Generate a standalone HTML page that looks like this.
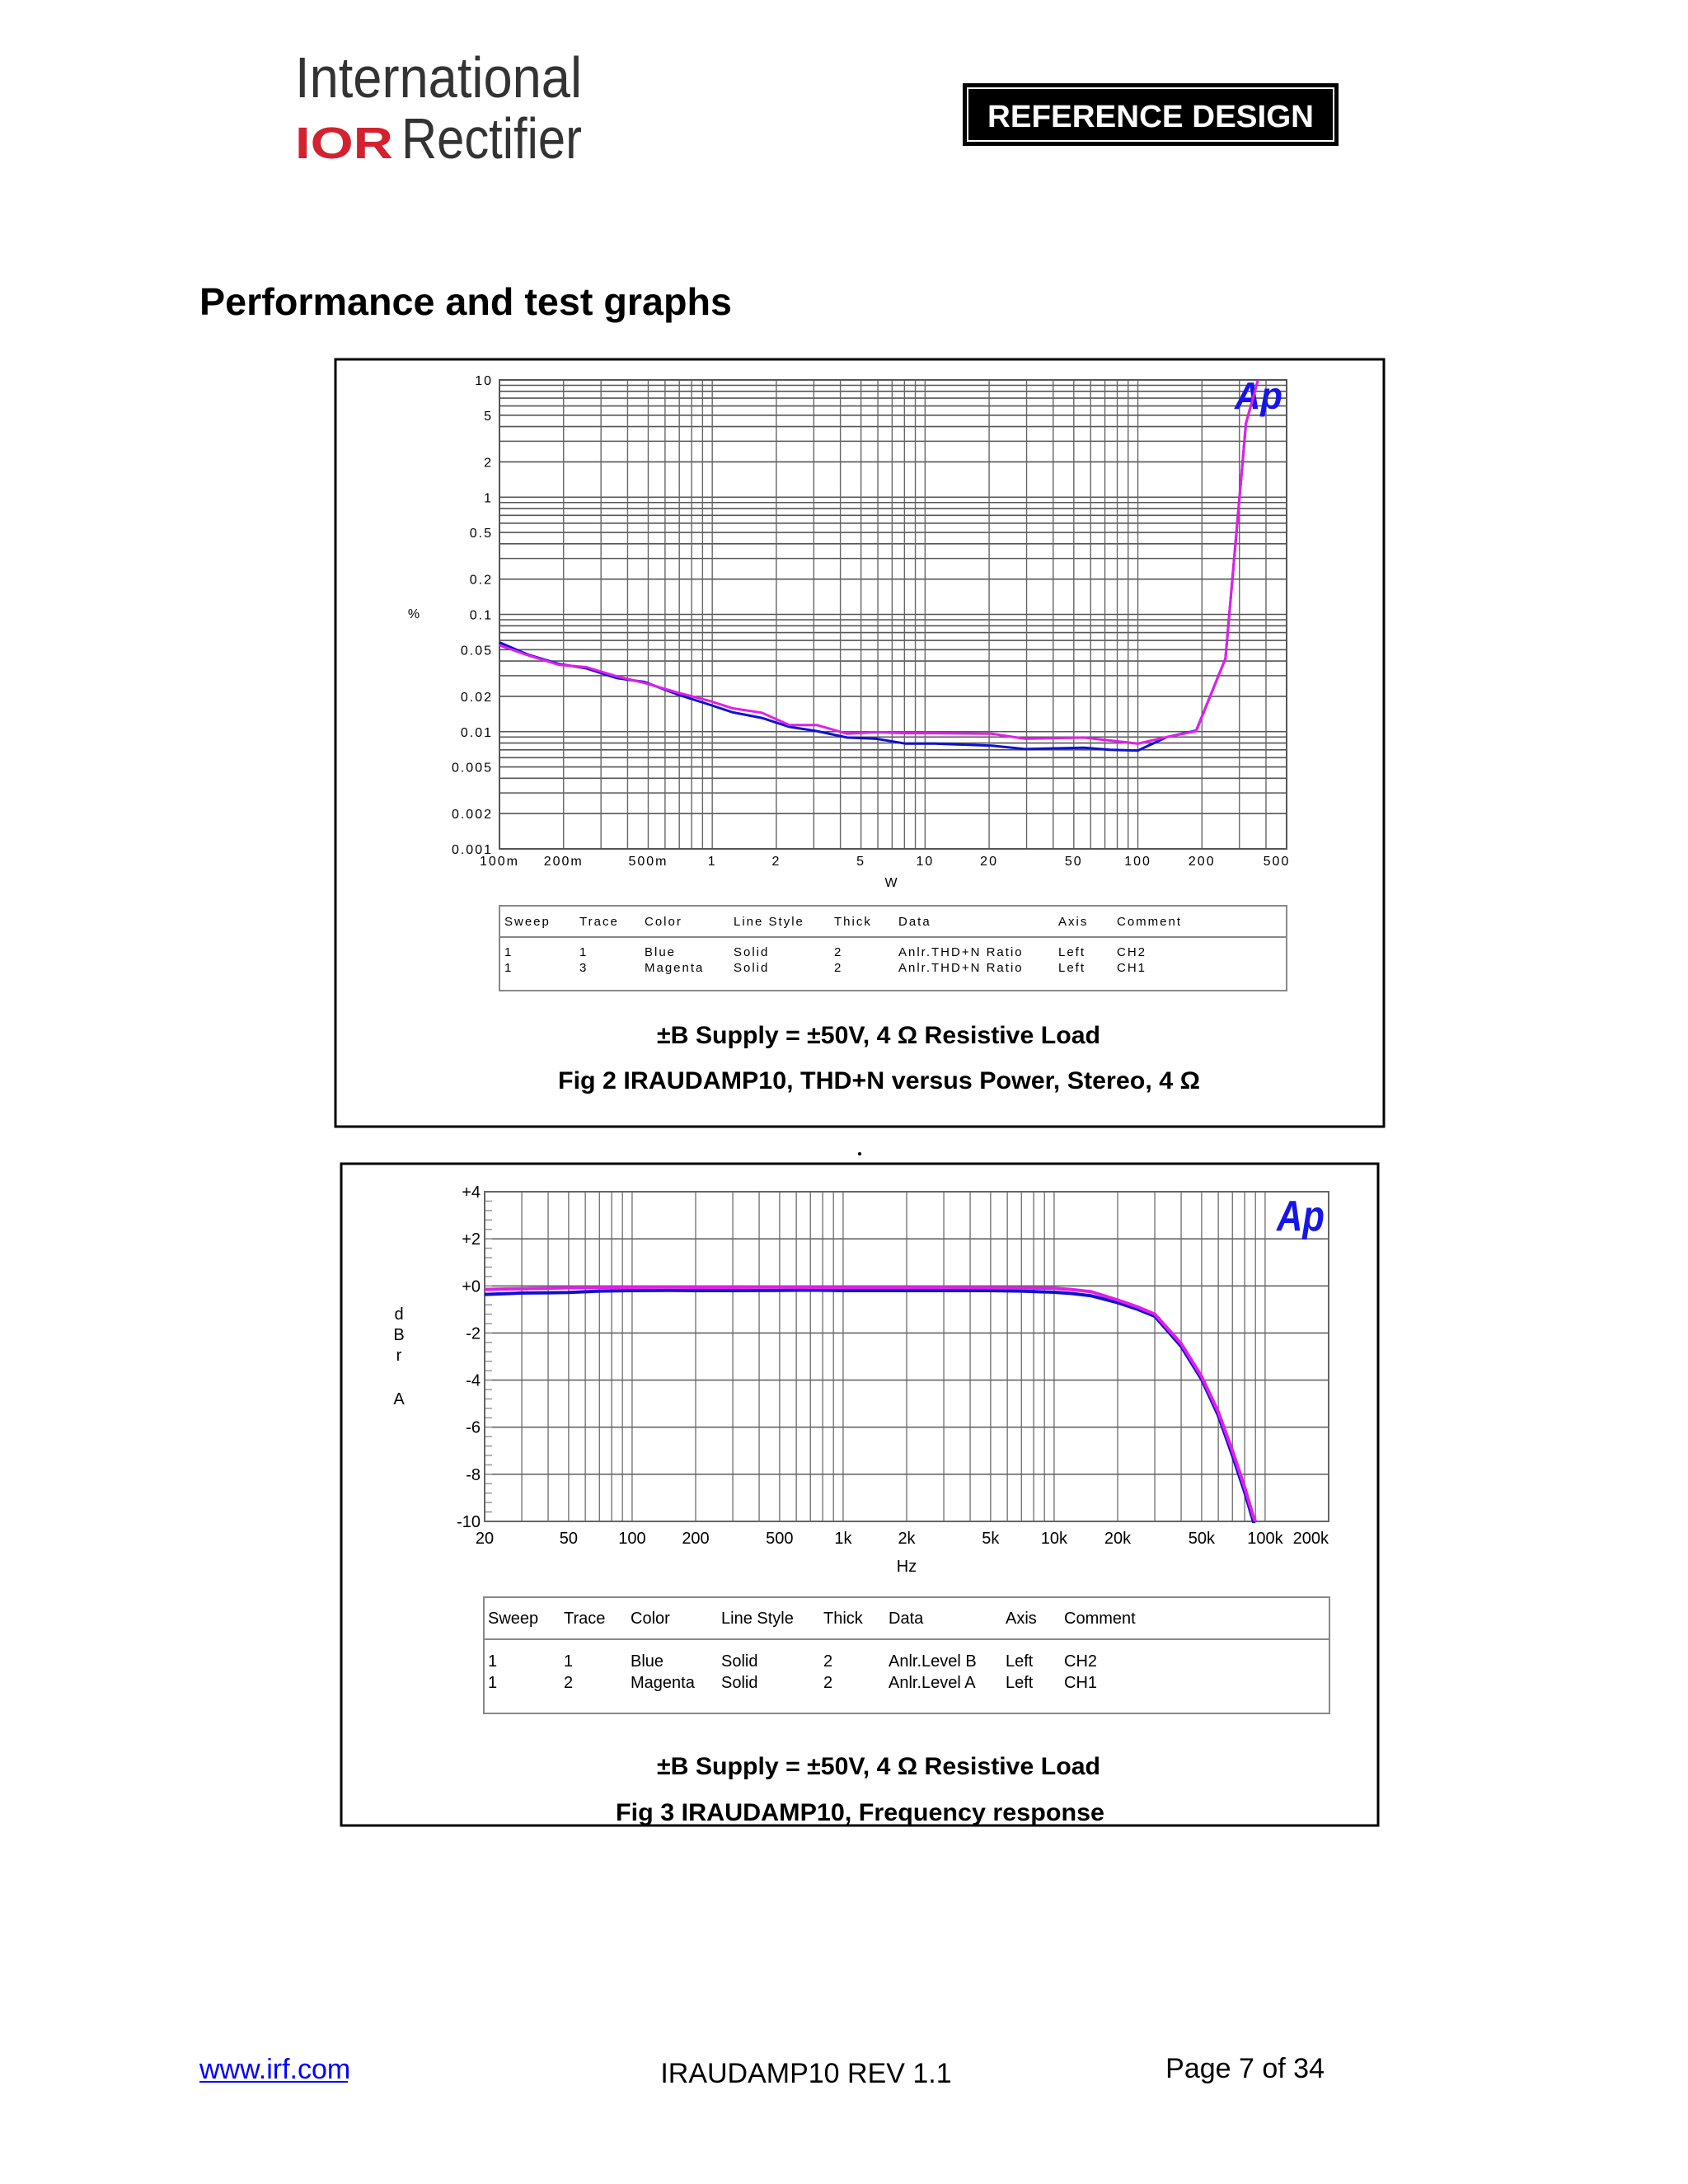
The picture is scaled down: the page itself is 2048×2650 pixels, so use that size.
<!DOCTYPE html>
<html><head><meta charset="utf-8"><style>
body{margin:0;background:#fff;}
svg{display:block;font-family:"Liberation Sans",sans-serif;}
</style></head><body>
<svg id="page" width="2048" height="2650" viewBox="0 0 2048 2650" xmlns="http://www.w3.org/2000/svg">
<g>
<text x="358" y="118" font-size="70" fill="#333" textLength="348" lengthAdjust="spacingAndGlyphs">International</text>
<text x="358" y="192" font-size="54" font-weight="bold" fill="#d3212f" textLength="119" lengthAdjust="spacingAndGlyphs">IOR</text>
<text x="487" y="192" font-size="70" fill="#333" textLength="219" lengthAdjust="spacingAndGlyphs">Rectifier</text>
<rect x="1168" y="101" width="456" height="76" fill="#000"/>
<rect x="1174" y="107" width="444" height="64" fill="none" stroke="#fff" stroke-width="2"/>
<text x="1198" y="154" font-size="38" font-weight="bold" fill="#fff" textLength="396" lengthAdjust="spacingAndGlyphs">REFERENCE DESIGN</text>
</g>
<text x="242" y="382" font-size="46" font-weight="bold" textLength="646" lengthAdjust="spacingAndGlyphs">Performance and test graphs</text>
<rect x="407" y="436" width="1272" height="931" fill="none" stroke="#000" stroke-width="3"/>
<rect x="414" y="1412" width="1258" height="803" fill="none" stroke="#000" stroke-width="3"/>
<circle cx="1043" cy="1400" r="2" fill="#000"/>
<g id="c1"></g>
<g id="c2"></g>
<g font-size="30" font-weight="bold">
<text x="797" y="1266" textLength="538" lengthAdjust="spacingAndGlyphs">±B Supply = ±50V, 4 Ω Resistive Load</text>
<text x="677" y="1321" textLength="779" lengthAdjust="spacingAndGlyphs">Fig 2  IRAUDAMP10, THD+N versus Power, Stereo, 4 Ω</text>
</g>
<g font-size="30" font-weight="bold">
<text x="797" y="2153" textLength="538" lengthAdjust="spacingAndGlyphs">±B Supply = ±50V, 4 Ω Resistive Load</text>
<text x="747" y="2209" textLength="593" lengthAdjust="spacingAndGlyphs">Fig 3  IRAUDAMP10, Frequency response</text>
</g>
<g font-size="34">
<text x="242" y="2522" fill="#00f">www.irf.com</text>
<line x1="242" y1="2526" x2="422" y2="2526" stroke="#00f" stroke-width="2"/>
<text x="978" y="2527" text-anchor="middle">IRAUDAMP10 REV 1.1</text>
<text x="1607" y="2521" text-anchor="end">Page 7 of 34</text>
</g>
</svg>
<script>
const NS="http://www.w3.org/2000/svg";
// Chart 1 data (THD+N vs Power)
const c1Power=[0.1,0.136,0.19,0.256,0.356,0.48,0.69,0.97,1.25,1.71,2.3,3.1,4.3,5.9,8.1,11.1,20.6,29.5,55.6,74,100,137,188,258,322,367];
const c1Blue=[0.0577,0.0454,0.0378,0.0347,0.0286,0.0265,0.0207,0.017,0.0146,0.0131,0.011,0.0101,0.0089,0.0087,0.0079,0.0079,0.0076,0.0071,0.0073,0.007,0.0069,0.009,0.0102,0.042,4.26,10];
const c1Magenta=[0.0546,0.0448,0.0372,0.0355,0.0296,0.026,0.0215,0.0183,0.0158,0.0145,0.0114,0.0114,0.0096,0.0099,0.0097,0.0097,0.0096,0.0087,0.0089,0.0084,0.0079,0.009,0.0101,0.042,4.26,10];
const c1YTicks=["10","5","2","1","0.5","0.2","0.1","0.05","0.02","0.01","0.005","0.002","0.001"];
const c1XTicks=["100m","200m","500m","1","2","5","10","20","50","100","200","500"];
// Chart 2 data (frequency response)
const c2Freq=[20,25,30,40,50,70,100,150,200,300,500,700,1000,2000,3000,5000,7000,10000,12000,15000,20000,25000,30000,40000,50000,60000,70000,80000,88000,90000];
const c2Blue=[-0.36,-0.33,-0.3,-0.29,-0.28,-0.22,-0.2,-0.19,-0.2,-0.2,-0.19,-0.18,-0.2,-0.2,-0.2,-0.2,-0.22,-0.27,-0.32,-0.42,-0.71,-1.0,-1.29,-2.57,-3.97,-5.5,-7.2,-8.75,-10,-10.3];
const c2Magenta=[-0.15,-0.13,-0.12,-0.1,-0.08,-0.07,-0.06,-0.05,-0.06,-0.06,-0.05,-0.06,-0.07,-0.07,-0.07,-0.08,-0.09,-0.1,-0.15,-0.25,-0.6,-0.9,-1.2,-2.45,-3.85,-5.35,-7.0,-8.55,-9.8,-10];
const c2YTicks=["+4","+2","+0","-2","-4","-6","-8","-10"];
const c2XTicks=["20","50","100","200","500","1k","2k","5k","10k","20k","50k","100k","200k"];
const c2XTickVals=[20,50,100,200,500,1000,2000,5000,10000,20000,50000,100000,200000];

function mk(p,tag,a,txt){const e=document.createElementNS(NS,tag);for(const k in a)e.setAttribute(k,a[k]);if(txt!==undefined)e.textContent=txt;p.appendChild(e);return e;}
function parseTick(s){if(s.endsWith('m'))return parseFloat(s)/1000;return parseFloat(s);}

// ---------- Chart 1 ----------
(function(){
const g=document.getElementById('c1');
const L=606,R=1561,T=461,B=1030;
const xlo=Math.log10(0.1),xhi=Math.log10(500),ylo=-3,yhi=1;
const X=v=>L+(Math.log10(v)-xlo)/(xhi-xlo)*(R-L);
const Y=v=>B-(Math.log10(v)-ylo)/(yhi-ylo)*(B-T);
for(let d=-3;d<1;d++)for(let m=1;m<10;m++){const v=m*Math.pow(10,d);const y=Y(v);
 const ln=mk(g,'line',{x1:L,x2:R,y1:y,y2:y,stroke:'#555','stroke-width':1.6});
 }
for(let d=-1;d<3;d++)for(let m=1;m<10;m++){const v=m*Math.pow(10,d);if(v>500)break;const x=X(v);
 const ln=mk(g,'line',{x1:x,x2:x,y1:T,y2:B,stroke:'#666','stroke-width':1.4});
 }
mk(g,'rect',{x:L,y:T,width:R-L,height:B-T,fill:'none',stroke:'#555','stroke-width':2});
c1YTicks.forEach(s=>{const t=mk(g,'text',{x:598,y:Y(parseFloat(s))+6,'font-size':16,'text-anchor':'end','letter-spacing':2},s);
 });
c1XTicks.forEach((s,i)=>{let x=X(parseTick(s));if(i==c1XTicks.length-1)x-=12;const t=mk(g,'text',{x:x,y:1050,'font-size':16,'text-anchor':'middle','letter-spacing':2},s);
 });
const xt=mk(g,'text',{x:1081,y:1076,'font-size':16,'text-anchor':'middle'},'W');

const yt=mk(g,'text',{x:502,y:750,'font-size':16,'text-anchor':'middle'},'%');

const ap=mk(g,'text',{x:1498,y:496,'font-size':46,'font-weight':'bold','font-style':'italic',fill:'#1515e8',textLength:58,lengthAdjust:'spacingAndGlyphs'},'Ap');

[[c1Blue,'#1010d0','series-ch2-blue'],[c1Magenta,'#e020e8','series-ch1-magenta']].forEach(([vals,c,n])=>{
 const pts=c1Power.map((p,i)=>X(p).toFixed(1)+','+Y(vals[i]).toFixed(1)).join(' ');
 const pl=mk(g,'polyline',{points:pts,fill:'none',stroke:c,'stroke-width':3});
 });
const lg=mk(g,'g',{'font-size':15,'letter-spacing':2});

mk(lg,'rect',{x:606,y:1099,width:955,height:103,fill:'none',stroke:'#888','stroke-width':2});
mk(lg,'line',{x1:606,x2:1561,y1:1137,y2:1137,stroke:'#888','stroke-width':2});
const cols=[612,703,782,890,1012,1090,1284,1355];
const rows=[["Sweep","Trace","Color","Line Style","Thick","Data","Axis","Comment"],["1","1","Blue","Solid","2","Anlr.THD+N Ratio","Left","CH2"],["1","3","Magenta","Solid","2","Anlr.THD+N Ratio","Left","CH1"]];
const ry=[1123,1160,1179];
rows.forEach((r,i)=>r.forEach((s,j)=>mk(lg,'text',{x:cols[j],y:ry[i]},s)));
})();

// ---------- Chart 2 ----------
(function(){
const g=document.getElementById('c2');
const L=588,R=1612,T=1446,B=1846;
const xlo=Math.log10(20),xhi=Math.log10(200000),ylo=-10,yhi=4;
const X=v=>L+(Math.log10(v)-xlo)/(xhi-xlo)*(R-L);
const Y=v=>B-(v-ylo)/(yhi-ylo)*(B-T);
for(let d=1;d<6;d++)for(let m=1;m<10;m++){const v=m*Math.pow(10,d);if(v<20||v>200000)continue;const x=X(v);
 const ln=mk(g,'line',{x1:x,x2:x,y1:T,y2:B,stroke:'#777','stroke-width':1.4});
 }
for(let v=-10;v<=4;v+=2){const y=Y(v);
 const ln=mk(g,'line',{x1:L,x2:R,y1:y,y2:y,stroke:'#666','stroke-width':1.6});
 }
for(let v=-10;v<4;v+=0.4){const y=Y(v);mk(g,'line',{x1:L,x2:L+9,y1:y,y2:y,stroke:'#999','stroke-width':1.5});}
mk(g,'rect',{x:L,y:T,width:R-L,height:B-T,fill:'none',stroke:'#666','stroke-width':2});
c2YTicks.forEach(s=>{const t=mk(g,'text',{x:583,y:Y(parseFloat(s))+7,'font-size':20,'text-anchor':'end'},s);
 });
c2XTicks.forEach((s,i)=>{const v=c2XTickVals[i];let x=X(v),a='middle';if(i==c2XTicks.length-1){x=R;a='end';}
 const t=mk(g,'text',{x:x,y:1873,'font-size':20,'text-anchor':a},s);
 });
const xt=mk(g,'text',{x:1100,y:1907,'font-size':20,'text-anchor':'middle'},'Hz');

const yg=mk(g,'g',{'font-size':20,'text-anchor':'middle'});

[["d",1601],["B",1626],["r",1651],["A",1704]].forEach(([s,y])=>mk(yg,'text',{x:484,y:y},s));
const ap=mk(g,'text',{x:1549,y:1493,'font-size':52,'font-weight':'bold','font-style':'italic',fill:'#1515e8',textLength:58,lengthAdjust:'spacingAndGlyphs'},'Ap');

const cl=mk(g,'clipPath',{id:'cp2'});mk(cl,'rect',{x:L,y:T,width:R-L,height:B-T+2});
[[c2Blue,'#1010d0','series-ch2-blue'],[c2Magenta,'#e020e8','series-ch1-magenta']].forEach(([vals,c,n])=>{
 const pts=c2Freq.map((f,i)=>X(f).toFixed(1)+','+Y(vals[i]).toFixed(1)).join(' ');
 const pl=mk(g,'polyline',{points:pts,fill:'none',stroke:c,'stroke-width':4,'clip-path':'url(#cp2)'});
 });
const lg=mk(g,'g',{'font-size':20});

mk(lg,'rect',{x:587,y:1938,width:1026,height:141,fill:'none',stroke:'#888','stroke-width':2});
mk(lg,'line',{x1:587,x2:1613,y1:1989,y2:1989,stroke:'#888','stroke-width':2});
const cols=[592,684,765,875,999,1078,1220,1291];
const rows=[["Sweep","Trace","Color","Line Style","Thick","Data","Axis","Comment"],["1","1","Blue","Solid","2","Anlr.Level B","Left","CH2"],["1","2","Magenta","Solid","2","Anlr.Level A","Left","CH1"]];
const ry=[1970,2022,2048];
rows.forEach((r,i)=>r.forEach((s,j)=>mk(lg,'text',{x:cols[j],y:ry[i]},s)));
})();
</script>
</body></html>
